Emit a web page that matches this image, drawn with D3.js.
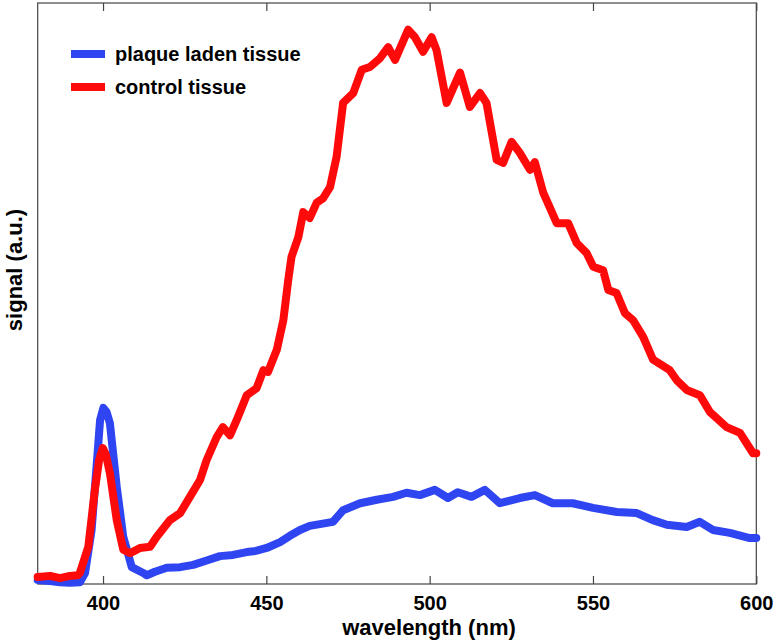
<!DOCTYPE html>
<html>
<head>
<meta charset="utf-8">
<script src="https://cdn.jsdelivr.net/npm/d3@7"></script>
<style>
  html, body { margin: 0; padding: 0; background: #fff; }
  svg { display: block; }
  text { font-family: "Liberation Sans", Arial, Helvetica, sans-serif; font-weight: bold; fill: #000; }
</style>
</head>
<body>
<svg id="chart" width="776" height="643"></svg>
<script>
// ---- data ----
const xTicks = [400, 450, 500, 550, 600];
const seriesNames = ["plaque laden tissue", "control tissue"];
const seriesColors = ["#2f45f2", "#ff0a0a"];

// control tissue (red): wavelength (nm), signal (a.u.)
const redNm = [380, 383.8, 386.8, 389.9, 392.3, 392.9, 395.5, 397.5, 398.8, 399.9, 400.9, 402.1, 404.2, 406.2, 408.3,
  411.3, 414.4, 416.4, 420.5, 423.6, 426.6, 429.7, 431.7, 434.8, 436.7, 438.9, 440.9, 444.0, 447.0, 449.1,
  450.5, 453.2, 455.2, 456.7, 457.7, 459.8, 461.3, 463.3, 465.4, 467.4, 469.5, 471.5, 473.5, 476.6, 479.2,
  481.7, 484.8, 487.3, 489.4, 493.4, 495.5, 498.0, 500.6, 502.1, 505.2, 509.3, 512.3, 515.4, 517.4, 520.5,
  522.5, 525.1, 527.6, 530.7, 532.2, 534.8, 538.9, 542.4, 545.0, 548.0, 550.1, 553.1, 554.7, 557.2, 559.8,
  562.3, 565.4, 568.4, 573.5, 575.6, 578.7, 582.7, 585.8, 590.9, 595.0, 599.0, 600];
const redVal = [1.2, 1.4, 1.0, 1.4, 1.5, 1.9, 6.4, 16.2, 21.3, 23.4, 22.2, 19.1, 11.0, 5.9, 5.3,
  6.2, 6.4, 8.1, 11.0, 12.2, 15.0, 17.9, 21.3, 25.3, 27.0, 25.6, 28.2, 32.5, 33.7, 36.8,
  36.5, 40.3, 45.4, 52.3, 56.3, 59.7, 64.0, 63.0, 65.6, 66.4, 68.3, 73.5, 82.8, 84.5, 88.5,
  89.0, 90.5, 92.4, 90.2, 95.4, 94.1, 91.6, 94.1, 91.9, 82.8, 88.0, 82.1, 84.5, 82.8, 73.0,
  72.5, 76.1, 74.2, 71.3, 72.6, 67.3, 62.1, 62.1, 58.7, 57.0, 54.6, 54.0, 50.6, 50.1, 46.6,
  45.4, 42.5, 38.6, 36.8, 35.1, 33.4, 32.5, 29.6, 27.0, 26.0, 22.5, 22.5];

// plaque laden tissue (blue)
const blueNm = [380, 383.8, 386.8, 389.9, 392.9, 394.5, 396.5, 398.1, 399.1, 400.1, 401.1, 402.1, 404.2, 406.2, 408.8,
  412.3, 413.4, 415.9, 419.5, 423.6, 427.6, 431.5, 435.8, 439.8, 444.0, 446.8, 450.1, 454.2, 457.2, 460.3,
  463.3, 466.4, 470.4, 473.5, 478.7, 483.8, 488.8, 492.9, 497.0, 501.6, 505.6, 508.6, 512.8, 516.9, 521.5,
  527.6, 532.2, 537.7, 543.8, 550.0, 557.3, 563.4, 568.3, 572.6, 578.7, 582.7, 586.7, 591.9, 598.0, 600];
const blueVal = [0.7, 0.5, 0.3, 0.2, 0.3, 1.9, 9.3, 20.8, 28.2, 30.3, 29.6, 27.7, 16.7, 8.1, 2.9,
  1.9, 1.5, 2.1, 2.8, 2.9, 3.3, 4.0, 4.8, 5.0, 5.5, 5.7, 6.2, 7.2, 8.3, 9.3,
  10.0, 10.3, 10.7, 12.7, 13.9, 14.5, 15.0, 15.7, 15.3, 16.2, 14.8, 15.8, 15.0, 16.2, 13.9,
  14.8, 15.3, 13.9, 13.9, 13.1, 12.4, 12.2, 11.0, 10.2, 9.8, 10.7, 9.3, 8.8, 7.9, 7.9];

// ---- layout ----
const svg = d3.select("#chart");
const L = 37.7, R = 756.3, T = 3, B = 584;

const x = d3.scaleLinear().domain([380, 600]).range([L, R]);
const y = d3.scaleLinear().domain([0, 100]).range([B, T]);

const axisColor = "#444";

// box
svg.append("rect")
  .attr("x", L).attr("y", T).attr("width", R - L).attr("height", B - T)
  .attr("fill", "none").attr("stroke", axisColor).attr("stroke-width", 1.2);

// bottom axis (ticks inward)
const xAxis = d3.axisBottom(x).tickValues(xTicks).tickSizeInner(-8).tickSizeOuter(0).tickPadding(12);
const gx = svg.append("g").attr("transform", `translate(0,${B})`).call(xAxis);
gx.select(".domain").remove();
gx.selectAll("line").attr("stroke", axisColor).attr("stroke-width", 1.2);
gx.selectAll("text")
  .style("font-family", '"Liberation Sans", Arial, Helvetica, sans-serif')
  .style("font-weight", "bold").style("font-size", "20px").attr("fill", "#000");

// top mirrored ticks
const xTop = d3.axisTop(x).tickValues(xTicks).tickSizeInner(-8).tickSizeOuter(0).tickFormat("");
const gt = svg.append("g").attr("transform", `translate(0,${T})`).call(xTop);
gt.select(".domain").remove();
gt.selectAll("line").attr("stroke", axisColor).attr("stroke-width", 1.2);

// series
const line = d3.line().x(d => x(d[0])).y(d => y(d[1])).curve(d3.curveLinear);
const blueData = blueNm.map((v, i) => [v, blueVal[i]]);
const redData = redNm.map((v, i) => [v, redVal[i]]);

[blueData, redData].forEach((data, i) => {
  svg.append("path")
    .datum(data)
    .attr("d", line)
    .attr("fill", "none")
    .attr("stroke", seriesColors[i])
    .attr("stroke-width", 8)
    .attr("stroke-linejoin", "round")
    .attr("stroke-linecap", "round");
});

// legend
const legend = svg.append("g");
seriesNames.forEach((name, i) => {
  const ly = 54 + i * 33;
  legend.append("line")
    .attr("x1", 71).attr("x2", 105).attr("y1", ly).attr("y2", ly)
    .attr("stroke", seriesColors[i]).attr("stroke-width", 8);
  legend.append("text")
    .attr("x", 115).attr("y", ly + 7)
    .style("font-size", "20px")
    .text(name);
});

// axis labels
svg.append("text")
  .attr("x", 429).attr("y", 635)
  .attr("text-anchor", "middle")
  .style("font-size", "22px")
  .text("wavelength (nm)");

svg.append("text")
  .attr("transform", "translate(22,270) rotate(-90)")
  .attr("text-anchor", "middle")
  .style("font-size", "22px")
  .text("signal (a.u.)");
</script>
</body>
</html>
